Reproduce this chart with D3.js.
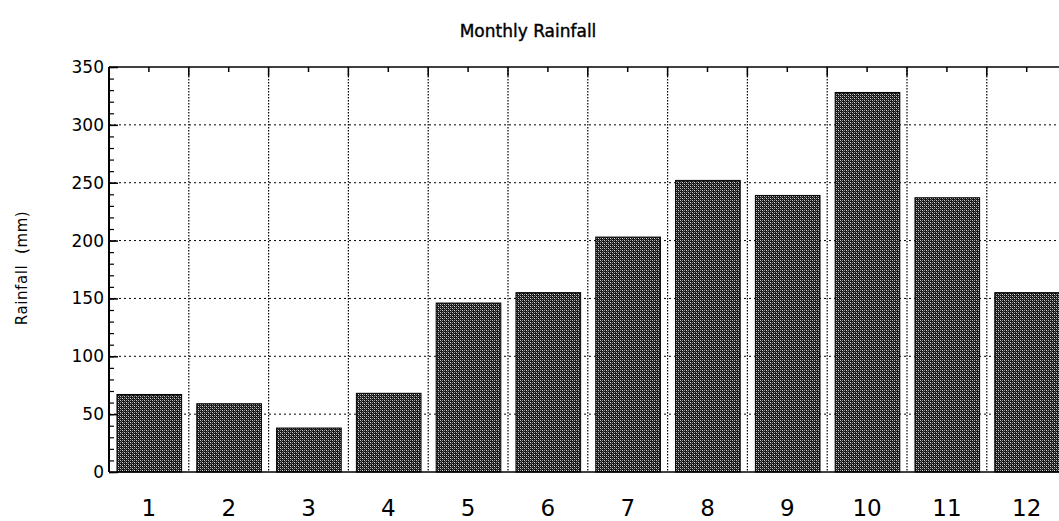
<!DOCTYPE html>
<html>
<head>
<meta charset="utf-8">
<script src="https://cdn.jsdelivr.net/npm/d3@7"></script>
<style>
  body { margin: 0; background: #fff; }
  svg { display: block; font-family: "DejaVu Sans", Verdana, sans-serif; }
</style>
</head>
<body>
<div id="chart"></div>
<script>
// data
const months = [1, 2, 3, 4, 5, 6, 7, 8, 9, 10, 11, 12];
const rainfall = [67, 59, 38, 68, 146, 155, 203, 252, 239, 328, 237, 155];
const yTicks = [0, 50, 100, 150, 200, 250, 300, 350];

const W = 1059, H = 521;
const margin = { top: 67, left: 109, bottom: 49 };
const plotH = H - margin.top - margin.bottom;

const svg = d3.select("#chart").append("svg")
  .attr("width", W)
  .attr("height", H);

// checker pattern for bars
const defs = svg.append("defs");
const pat = defs.append("pattern")
  .attr("id", "chk")
  .attr("patternUnits", "userSpaceOnUse")
  .attr("width", 4).attr("height", 4);
pat.append("rect").attr("width", 4).attr("height", 4).attr("fill", "#151515");
pat.append("rect").attr("x", 0).attr("y", 0).attr("width", 1).attr("height", 1).attr("fill", "#ccc");
pat.append("rect").attr("x", 2).attr("y", 2).attr("width", 1).attr("height", 1).attr("fill", "#e0e0e0");
pat.append("rect").attr("x", 2).attr("y", 0).attr("width", 1).attr("height", 1).attr("fill", "#999");
pat.append("rect").attr("x", 0).attr("y", 2).attr("width", 1).attr("height", 1).attr("fill", "#999");
pat.append("rect").attr("x", 1).attr("y", 1).attr("width", 1).attr("height", 1).attr("fill", "#555");
pat.append("rect").attr("x", 3).attr("y", 3).attr("width", 1).attr("height", 1).attr("fill", "#555");

// x spans 0.5 .. 12.5, right end runs past the window
const x = d3.scaleLinear().domain([0.5, 12.5]).range([margin.left, margin.left + 12 * 79.8]);
const y = d3.scaleLinear().domain([0, 350]).range([margin.top + plotH, margin.top]);

const g = svg.append("g");

// grid
g.selectAll(".vgrid")
  .data(d3.range(1.5, 12.5, 1))
  .enter().append("line")
  .attr("x1", d => x(d)).attr("x2", d => x(d))
  .attr("y1", y(350)).attr("y2", y(0))
  .attr("stroke", "#000").attr("stroke-width", 1.2)
  .attr("stroke-dasharray", "1.5,1.5");

g.selectAll(".hgrid")
  .data(yTicks.slice(1, -1))
  .enter().append("line")
  .attr("x1", x(0.5)).attr("x2", W)
  .attr("y1", d => y(d)).attr("y2", d => y(d))
  .attr("stroke", "#000").attr("stroke-width", 1)
  .attr("stroke-dasharray", "2,3");

// bars
g.selectAll(".bar")
  .data(rainfall)
  .enter().append("rect")
  .attr("x", (d, i) => x(months[i] - 0.4))
  .attr("width", x(1.31) - x(0.5))
  .attr("y", d => y(d))
  .attr("height", d => y(0) - y(d))
  .attr("fill", "url(#chk)")
  .attr("stroke", "#000")
  .attr("stroke-width", 1);

// frame
g.append("line")
  .attr("x1", x(0.5)).attr("x2", W)
  .attr("y1", y(350)).attr("y2", y(350))
  .attr("stroke", "#000").attr("stroke-width", 1.5);
g.append("line")
  .attr("x1", x(0.5)).attr("x2", W)
  .attr("y1", y(0)).attr("y2", y(0))
  .attr("stroke", "#000").attr("stroke-width", 1.5);
g.append("line")
  .attr("x1", x(0.5)).attr("x2", x(0.5))
  .attr("y1", y(350)).attr("y2", y(0))
  .attr("stroke", "#000").attr("stroke-width", 2);

// top ticks: major on boundaries, minor at centers
g.selectAll(".tmaj")
  .data(d3.range(1.5, 12.5, 1))
  .enter().append("line")
  .attr("x1", d => x(d)).attr("x2", d => x(d))
  .attr("y1", y(350)).attr("y2", y(350) + 9)
  .attr("stroke", "#000").attr("stroke-width", 1.5);
g.selectAll(".tmin")
  .data(months)
  .enter().append("line")
  .attr("x1", d => x(d)).attr("x2", d => x(d))
  .attr("y1", y(350)).attr("y2", y(350) + 5)
  .attr("stroke", "#000").attr("stroke-width", 1.5);

// left axis ticks
const yAxis = d3.axisRight(y).tickValues(yTicks).tickSize(9).tickFormat("");
g.append("g")
  .attr("transform", `translate(${x(0.5)},0)`)
  .call(yAxis)
  .call(a => a.select(".domain").remove())
  .call(a => a.selectAll("line").attr("stroke-width", 1.5));
const yMinor = d3.axisRight(y).tickValues(d3.range(0, 351, 10)).tickSize(5).tickFormat("");
g.append("g")
  .attr("transform", `translate(${x(0.5)},0)`)
  .call(yMinor)
  .call(a => a.select(".domain").remove())
  .call(a => a.selectAll("line").attr("stroke-width", 1.2));

// y tick labels
g.selectAll(".ylab")
  .data(yTicks)
  .enter().append("text")
  .attr("x", x(0.5) - 5)
  .attr("y", d => y(d) + 6)
  .attr("text-anchor", "end")
  .attr("font-size", 17)
  .attr("fill", "#000")
  .text(d => d);

// x labels
g.selectAll(".xlab")
  .data(months)
  .enter().append("text")
  .attr("x", d => x(d))
  .attr("y", 516)
  .attr("text-anchor", "middle")
  .attr("font-size", 23)
  .attr("fill", "#000")
  .text(d => d);

// title
svg.append("text")
  .attr("x", 528).attr("y", 37)
  .attr("text-anchor", "middle")
  .attr("font-size", 17)
  .attr("font-weight", "normal")
  .attr("stroke", "#000").attr("stroke-width", 0.4)
  .text("Monthly Rainfall");

// y axis title
svg.append("text")
  .attr("transform", "translate(27,268) rotate(-90)")
  .attr("text-anchor", "middle")
  .attr("font-size", 15)
  .attr("letter-spacing", 0.6)
  .attr("xml:space", "preserve")
  .text("Rainfall  (mm)");
</script>
</body>
</html>
